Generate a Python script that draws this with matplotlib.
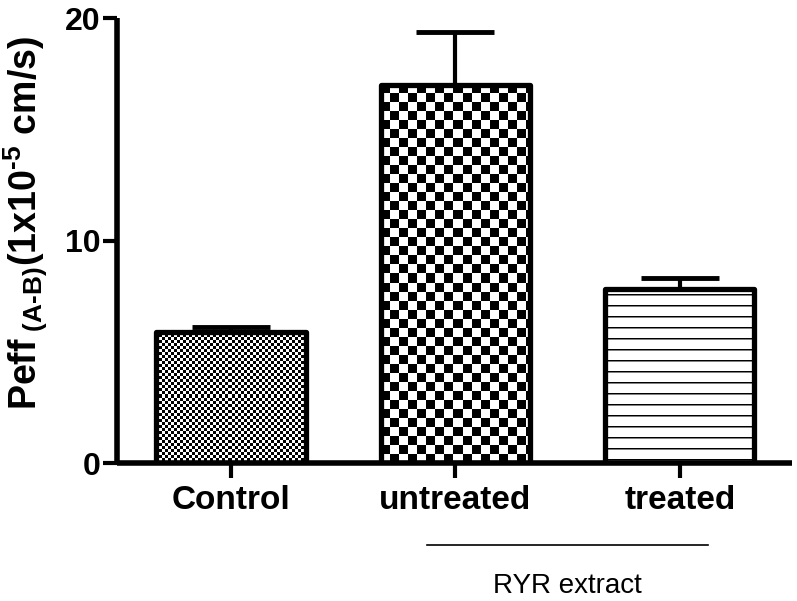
import numpy as np
import matplotlib.pyplot as plt

categories = ["Control", "untreated", "treated"]
means = [5.9, 17.0, 7.8]
sem = [0.2, 2.35, 0.5]
patterns = ["checker_fine", "checker_coarse", "stripes"]
group_label = "RYR extract"
group_members = [1, 2]
yticks = [0, 10, 20]

plt.rcParams["font.family"] = ["Liberation Sans", "DejaVu Sans"]
plt.rcParams["mathtext.fontset"] = "custom"
plt.rcParams["mathtext.rm"] = "Liberation Sans:bold"
plt.rcParams["mathtext.it"] = "Liberation Sans:bold"
plt.rcParams["mathtext.bf"] = "Liberation Sans:bold"
plt.rcParams["mathtext.default"] = "rm"


def make_pattern(kind, w_px, h_px):
    w_px, h_px = int(round(w_px)), int(round(h_px))
    cols = np.arange(w_px)[None, :]
    rows = np.arange(h_px)[:, None]
    if kind == "checker_fine":
        return ((cols // 3 + rows // 3) % 2).astype(float)
    if kind == "checker_coarse":
        return ((cols // 9 + rows // 9) % 2).astype(float)
    img = np.ones((h_px, w_px))
    r = rows[:, 0] % 11
    img[r == 5, :] = 0.0
    img[r == 6, :] = 0.5
    return img


fig = plt.figure(figsize=(7.97, 6.01), dpi=100)
ax = fig.add_axes([0.1468, 0.2296, 0.8469, 0.7404])

x = np.arange(len(categories))
xlim = (-0.508, 2.50)
ylim = (0, 20)
ax.set_xlim(*xlim)
ax.set_ylim(*ylim)

ax.errorbar(x, means, yerr=[np.zeros(len(sem)), sem], fmt="none",
            ecolor="black", elinewidth=3, capsize=28, capthick=3.5,
            zorder=1)

bars = ax.bar(x, means, width=0.665, facecolor="none", edgecolor="black",
              linewidth=3.8, zorder=3)

# pixel scale for pattern resolution
px_per_x = 797 * 0.8469 / (xlim[1] - xlim[0])
px_per_y = 601 * 0.7404 / (ylim[1] - ylim[0])
for bar, kind in zip(bars, patterns):
    bar.set_joinstyle("round")
    x0, y0 = bar.get_x(), bar.get_y()
    w, h = bar.get_width(), bar.get_height()
    img = make_pattern(kind, w * px_per_x, h * px_per_y)
    im = ax.imshow(img, cmap="gray", vmin=0, vmax=1, origin="upper",
                   extent=(x0, x0 + w, y0, y0 + h), aspect="auto",
                   interpolation="nearest", zorder=2)
    im.set_clip_path(bar)

ax.set_xlim(*xlim)
ax.set_ylim(*ylim)

for side in ["top", "right"]:
    ax.spines[side].set_visible(False)
for side in ["left", "bottom"]:
    ax.spines[side].set_linewidth(4)
    ax.spines[side].set_capstyle("butt")

ax.set_xticks(x)
ax.set_xticklabels(categories, fontsize=24, fontweight="bold")
ax.set_yticks(yticks)
ax.set_yticklabels([str(t) for t in yticks], fontsize=23, fontweight="bold")
ax.tick_params(axis="x", length=11, width=3, pad=5)
ax.tick_params(axis="y", length=10, width=3, pad=2)

ax.set_ylabel(r"$Peff_{\ (A\text{-}B)}(1x10^{\text{-}5}\ cm/s)$", fontsize=27)
ax.yaxis.set_label_coords(-0.1, 0.54)

# group bracket under the category labels
gc = np.mean(group_members)
ax.plot([gc - 0.625, gc + 0.625], [-3.7, -3.7], color="black", lw=1.2,
        clip_on=False, transform=ax.transData)
ax.text(gc, -5.55, group_label, ha="center", va="center", fontsize=20)

fig.savefig("out.png", dpi=100)
